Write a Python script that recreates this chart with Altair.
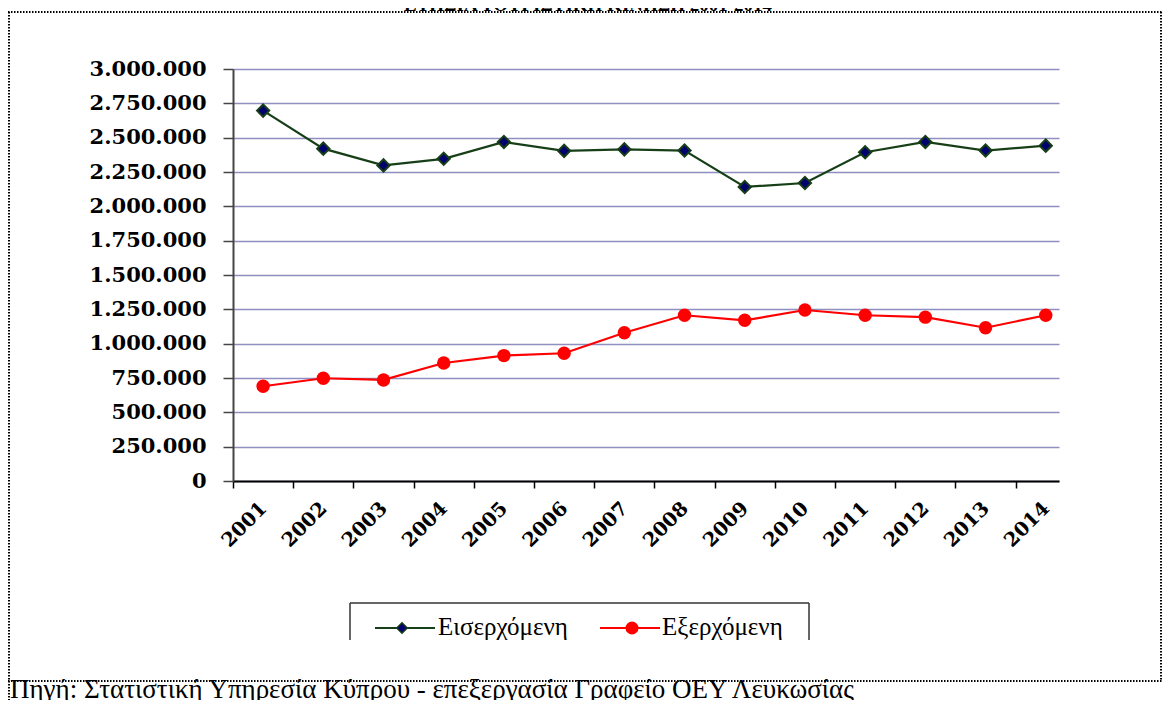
import altair as alt
import pandas as pd

years = list(range(2001, 2015))
incoming = [2697000, 2420000, 2298000, 2346000, 2469000, 2404000, 2415000,
            2406000, 2141000, 2170000, 2394000, 2469000, 2406000, 2442000]
outgoing = [690000, 748000, 736000, 859000, 913000, 930000, 1080000,
            1207000, 1170000, 1245000, 1207000, 1193000, 1116000, 1207000]
series_names = ["Εισερχόμενη", "Εξερχόμενη"]
y_ticks = list(range(0, 3000001, 250000))
title_text = "ΕΤΗΣΙΑ ΤΟΥΡΙΣΤΙΚΗ ΚΙΝΗΣΗ 2001-2014"
source_text = "Πηγή: Στατιστική Υπηρεσία Κύπρου - επεξεργασία Γραφείο ΟΕΥ Λευκωσίας"

df = pd.DataFrame({
    "year": years * 2,
    "value": incoming + outgoing,
    "series": [series_names[0]] * len(years) + [series_names[1]] * len(years),
})

W, H = 826, 412
GREEN = "#173f17"
NAVY = "#00006e"
RED = "#ff0000"

x_axis = alt.Axis(values=years, format="d", labelAngle=-45, labelAlign="right",
                  labelBaseline="middle", tickOffset=-30.1, labelOffset=30.1,
                  grid=False, domainColor="black", domainWidth=2, tickColor="black",
                  tickWidth=1.5, tickSize=7, labelPadding=17, labelFont="DejaVu Serif",
                  labelFontWeight="bold", labelFontSize=19.5, labelColor="black",
                  title=None)
y_axis = alt.Axis(values=y_ticks,
                  labelExpr="replace(format(datum.value, ','), /,/g, '.')",
                  grid=True, gridColor="#8f8fc2", gridWidth=1.3,
                  domainColor="#444444", domainWidth=2, tickColor="#444444",
                  tickWidth=1.5, tickSize=10, labelPadding=17, labelFont="DejaVu Serif",
                  labelFontWeight="bold", labelFontSize=21, labelColor="black",
                  title=None)

base = alt.Chart(df).encode(
    x=alt.X("year:Q", scale=alt.Scale(domain=[2000.5, 2014.22], nice=False, zero=False), axis=x_axis),
    y=alt.Y("value:Q", scale=alt.Scale(domain=[0, 3000000], nice=False), axis=y_axis),
)

in_f = alt.datum.series == series_names[0]
out_f = alt.datum.series == series_names[1]

line_in = base.transform_filter(in_f).mark_line(color=GREEN, strokeWidth=2.2)
pts_in = base.transform_filter(in_f).mark_point(shape="diamond", filled=True, fill=NAVY,
                                                  stroke=GREEN, strokeWidth=2, size=150, opacity=1)
line_out = base.transform_filter(out_f).mark_line(color=RED, strokeWidth=2.2)
pts_out = base.transform_filter(out_f).mark_circle(color=RED, size=180, opacity=1)

one = pd.DataFrame({"t": [title_text]})
src = pd.DataFrame({"t": [source_text]})
leg_in = pd.DataFrame({"t": [series_names[0]]})
leg_out = pd.DataFrame({"t": [series_names[1]]})


def rule(x, x2, y, y2=None, dash=None, color="black", width=2.0):
    enc = dict(x=alt.value(x), x2=alt.value(x2), y=alt.value(y))
    if y2 is not None:
        enc["y2"] = alt.value(y2)
    kw = dict(color=color, strokeWidth=width)
    if dash:
        kw["strokeDash"] = dash
    return alt.Chart(one).mark_rule(**kw).encode(**enc)


dot = [1.5, 1.5]
frame = [
    rule(-225, 929, -57, dash=dot),
    rule(-225, 929, 612, dash=dot),
    rule(-224, -224, -57, 631, dash=dot),
    rule(928, 928, -57, 612, dash=dot),
]

title = alt.Chart(one).mark_text(font="Liberation Serif", fontWeight="bold", fontSize=19,
                                 align="center", baseline="alphabetic", color="black").encode(
    x=alt.value(355), y=alt.value(-58), text="t:N")

source = alt.Chart(src).mark_text(font="Liberation Serif", fontSize=27, align="left",
                                  baseline="alphabetic", color="black").encode(
    x=alt.value(-223), y=alt.value(629), text="t:N")

legend_box = [
    rule(117, 576, 534, color="#333333", width=1.5),
    rule(117, 117, 534, 571, color="#333333", width=1.5),
    rule(576, 576, 534, 571, color="#333333", width=1.5),
]
leg_line_in = rule(142, 202, 559, color=GREEN, width=2.2)
leg_pt_in = alt.Chart(leg_in).mark_point(shape="diamond", filled=True, fill=NAVY, stroke=GREEN,
                                         strokeWidth=1.5, size=110, opacity=1).encode(
    x=alt.value(169), y=alt.value(559))
leg_txt_in = alt.Chart(leg_in).mark_text(font="Liberation Serif", fontSize=25, align="left",
                                         baseline="alphabetic", color="black").encode(
    x=alt.value(205), y=alt.value(566), text="t:N")
leg_line_out = rule(367, 427, 559, color=RED, width=2.2)
leg_pt_out = alt.Chart(leg_out).mark_circle(color=RED, size=170, opacity=1).encode(
    x=alt.value(399), y=alt.value(559))
leg_txt_out = alt.Chart(leg_out).mark_text(font="Liberation Serif", fontSize=25, align="left",
                                           baseline="alphabetic", color="black").encode(
    x=alt.value(429), y=alt.value(566), text="t:N")

chart = alt.layer(
    line_in, line_out, pts_in, pts_out,
    *frame, title, source, *legend_box,
    leg_line_in, leg_pt_in, leg_txt_in, leg_line_out, leg_pt_out, leg_txt_out,
).properties(
    width=W, height=H,
    padding={"left": 225, "top": 61, "right": 103, "bottom": 219},
    autosize=alt.AutoSizeParams(type="none"),
    background="white",
).configure_view(stroke=None)

chart.save("out.html", embed_options={"renderer": "svg", "actions": False})
